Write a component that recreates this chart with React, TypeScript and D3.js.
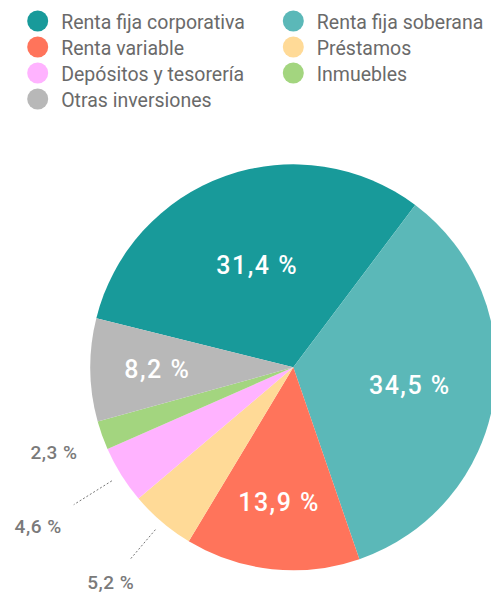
import React from "react";
import * as d3 from "d3";

const categories = [
  "Renta fija corporativa",
  "Renta fija soberana",
  "Renta variable",
  "Préstamos",
  "Depósitos y tesorería",
  "Inmuebles",
  "Otras inversiones",
];
const values = [31.4, 34.5, 13.9, 5.2, 4.6, 2.3, 8.2];
const labels = ["31,4 %", "34,5 %", "13,9 %", "5,2 %", "4,6 %", "2,3 %", "8,2 %"];
const colors = ["#189a9a", "#5bb8b8", "#ff745b", "#ffda97", "#ffb3ff", "#a3d57f", "#b8b8b8"];
// legend order (two columns)
const legendOrder = [0, 1, 2, 3, 4, 5, 6];
// label placement: inside (white) or outside (grey)
const labelInside = [true, true, true, false, false, false, true];
const labelRadius = [108, 118, 136, 282, 301, 254, 136];
const leaderRadius: (null | [number, number])[] = [null, null, null, [213, 252], [214, 259], null, null];

const W = 491;
const H = 594;
const cx = 293.3;
const cy = 367.3;
const R = 203;

export default function App() {
  const start = (-76 * Math.PI) / 180;
  const pie = d3
    .pie<number>()
    .sort(null)
    .startAngle(start)
    .endAngle(start + 2 * Math.PI)
    .value((d) => d);
  const arcs = pie(values);
  const arc = d3.arc<d3.PieArcDatum<number>>().innerRadius(0).outerRadius(R);
  const polar = (a: number, r: number) => [Math.sin(a) * r, -Math.cos(a) * r];

  const font = "Roboto, 'DejaVu Sans', sans-serif";

  return (
    <svg
      width={W}
      height={H}
      style={{ position: "absolute", left: 0, top: 0, display: "block" }}
    >
      <g>
        {legendOrder.map((idx, k) => {
          const col = k % 2;
          const row = Math.floor(k / 2);
          const x = col === 0 ? 37.7 : 293.3;
          const y = 21 + row * 26;
          return (
            <g key={idx}>
              <circle cx={x} cy={y} r={10.5} fill={colors[idx]} />
              <text
                x={x + 23.5}
                y={y + 7.5}
                fontFamily={font}
                fontSize={19.5}
                fontWeight={400}
                fill="#6a6a6a"
              >
                {categories[idx]}
              </text>
            </g>
          );
        })}
      </g>
      <g transform={`translate(${cx},${cy})`}>
        {arcs.map((a, i) => (
          <path key={i} d={arc(a) || ""} fill={colors[i]} />
        ))}
        {arcs.map((a, i) => {
          const mid = (a.startAngle + a.endAngle) / 2;
          const [lx, ly] = polar(mid, labelRadius[i]);
          const lr = leaderRadius[i];
          return (
            <g key={"l" + i}>
              {lr && (
                <line
                  x1={polar(mid, lr[0])[0]}
                  y1={polar(mid, lr[0])[1]}
                  x2={polar(mid, lr[1])[0]}
                  y2={polar(mid, lr[1])[1]}
                  stroke="#777"
                  strokeWidth={1}
                  strokeDasharray="2,2"
                />
              )}
              <text
                x={lx}
                y={ly}
                textAnchor="middle"
                dominantBaseline="central"
                fontFamily={font}
                fontSize={labelInside[i] ? 25 : 19}
                fontWeight={500}
                letterSpacing={labelInside[i] ? 1.5 : 0.5}
                fill={labelInside[i] ? "#fff" : "#7a7a7a"}
              >
                {labels[i]}
              </text>
            </g>
          );
        })}
      </g>
    </svg>
  );
}
